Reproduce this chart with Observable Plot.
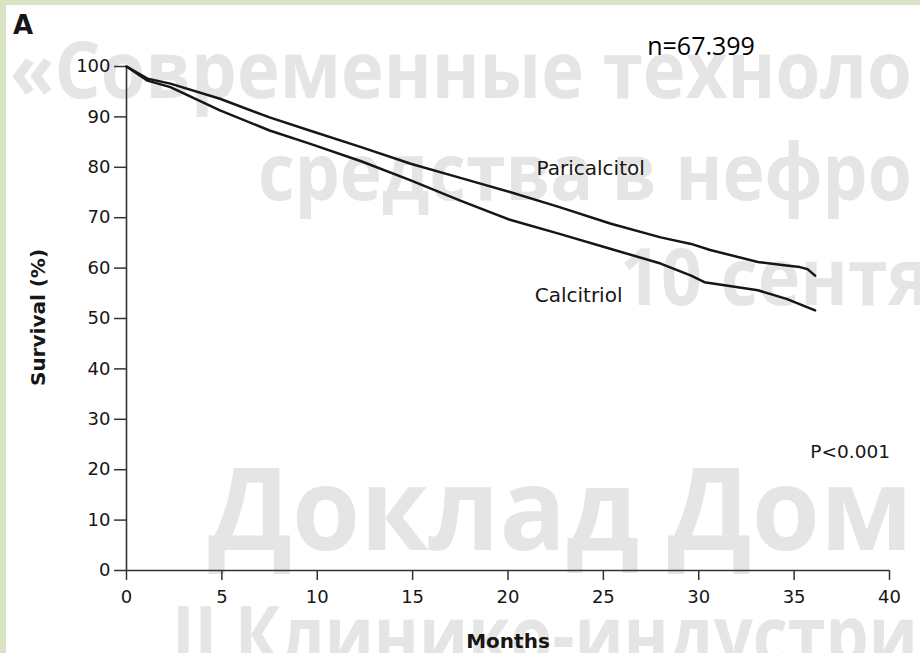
<!DOCTYPE html>
<html>
<head>
<meta charset="utf-8">
<script src="https://cdn.jsdelivr.net/npm/d3@7"></script>
<script src="https://cdn.jsdelivr.net/npm/@observablehq/plot@0.6"></script>
<style>
  html, body { margin: 0; padding: 0; background: #fff; }
  #wrap { position: relative; width: 920px; height: 653px; overflow: hidden; background: #fff; }
  .strip { position: absolute; background: #d9e4c4; }
  #bg { position: absolute; left: 0; top: 0; }
  #bg text { font-family: "Open Sans", sans-serif; font-weight: 700; fill: #e5e5e5; filter: blur(0.7px); }
  #chart { position: absolute; left: 0; top: 0; }
</style>
</head>
<body>
<div id="wrap">
  <div class="strip" style="left:0;top:0;width:920px;height:5px"></div>
  <div class="strip" style="left:0;top:0;width:6px;height:653px"></div>
  <svg id="bg" width="920" height="653">
    <text x="10" y="98" font-size="78" data-fit="902" data-group="a">«Современные техноло</text>
    <text x="258" y="200" font-size="78" data-fit="654" data-group="a">средства в нефро</text>
    <text x="620" y="305" font-size="78" data-group="a">10 сентя</text>
    <text x="208" y="550" font-size="114" data-fit="705" data-group="b">Доклад Дом</text>
    <text x="172" y="664" font-size="80" data-fit="746" data-group="c">II Клинико-индустри</text>
  </svg>
  <div id="chart"></div>
</div>
<script>
// Kaplan–Meier survival, months since start of therapy
const paricalcitolMonths = [0, 1.1, 2.3, 4.9, 7.5, 9.6, 12.3, 14.9, 17.5, 20.1, 22.7, 25.4, 28.0, 29.6, 30.6, 33.1, 34.6, 35.3, 35.7, 36.1];
const paricalcitolSurvival = [100, 97.6, 96.6, 93.6, 89.9, 87.3, 84.0, 80.7, 77.9, 75.1, 72.1, 68.8, 66.1, 64.8, 63.6, 61.2, 60.5, 60.2, 59.8, 58.5];

const calcitriolMonths = [0, 1.1, 2.3, 4.9, 7.5, 9.6, 12.3, 14.9, 17.5, 20.1, 22.7, 25.4, 28.0, 29.6, 30.3, 33.1, 34.6, 36.1];
const calcitriolSurvival = [100, 97.2, 95.9, 91.3, 87.3, 84.7, 81.2, 77.4, 73.4, 69.6, 66.8, 63.8, 60.9, 58.5, 57.2, 55.6, 53.9, 51.6];

const monthTicks = [0, 5, 10, 15, 20, 25, 30, 35, 40];
const survivalTicks = [0, 10, 20, 30, 40, 50, 60, 70, 80, 90, 100];

const seriesNames = ["Paricalcitol", "Calcitriol"];
const labelMonths = [21.5, 21.4];
const labelSurvival = [78.4, 53.2];

const sampleNote = "n=67.399";
const pValue = "P<0.001";
const panelLetter = "A";

// Background banner lines: squeeze each group horizontally to its width
const groupScale = {};
document.querySelectorAll("#bg text[data-fit]").forEach(t => {
  const natural = t.getComputedTextLength();
  const s = +t.dataset.fit / natural;
  groupScale[t.dataset.group] = groupScale[t.dataset.group] ? (groupScale[t.dataset.group] + s) / 2 : s;
});
document.querySelectorAll("#bg text").forEach(t => {
  const x = +t.getAttribute("x");
  const s = t.dataset.fit ? +t.dataset.fit / t.getComputedTextLength() : groupScale[t.dataset.group];
  t.setAttribute("transform", `translate(${x},0) scale(${s},1) translate(${-x},0)`);
});

const rows = [
  ...paricalcitolMonths.map((m, i) => ({group: seriesNames[0], month: m, survival: paricalcitolSurvival[i]})),
  ...calcitriolMonths.map((m, i) => ({group: seriesNames[1], month: m, survival: calcitriolSurvival[i]}))
];
const seriesLabels = seriesNames.map((name, i) => ({name, month: labelMonths[i], survival: labelSurvival[i]}));

const ink = "#161616";

const chart = Plot.plot({
  width: 920,
  height: 653,
  marginLeft: 126,
  marginRight: 31,
  marginTop: 66,
  marginBottom: 83,
  style: {background: "transparent", fontFamily: "'DejaVu Sans', sans-serif", fontSize: "18px", color: ink, overflow: "visible"},
  x: {domain: [0, 40]},
  y: {domain: [0, 100]},
  marks: [
    Plot.axisX({ticks: monthTicks, tickSize: 10, tickPadding: 10, label: null, stroke: "#333", strokeWidth: 1.5, fontSize: 18}),
    Plot.axisY({ticks: survivalTicks, tickSize: 12, tickPadding: 4, label: null, stroke: "#333", strokeWidth: 1.5, fontSize: 18}),
    Plot.ruleX([0], {stroke: "#333", strokeWidth: 1.6}),
    Plot.ruleY([0], {stroke: "#333", strokeWidth: 1.6}),
    Plot.line(rows, {x: "month", y: "survival", z: "group", stroke: ink, strokeWidth: 2.5}),
    Plot.text(seriesLabels, {x: "month", y: "survival", text: "name", textAnchor: "start", lineAnchor: "bottom", fontSize: 20, fill: ink}),
    Plot.text([pValue], {x: 35.85, y: 22.3, text: d => d, textAnchor: "start", lineAnchor: "bottom", fontSize: 18.5, fill: ink}),
    Plot.text([sampleNote], {x: 27.3, y: 102.3, text: d => d, textAnchor: "start", lineAnchor: "bottom", fontSize: 25, fontFamily: "'Open Sans', sans-serif", fill: "#000"}),
    Plot.text([panelLetter], {x: -5.95, y: 106.5, text: d => d, textAnchor: "start", lineAnchor: "bottom", fontSize: 26, fontWeight: "bold", fill: ink}),
    Plot.text(["Months"], {x: 20, y: -15.35, text: d => d, textAnchor: "middle", lineAnchor: "bottom", fontSize: 20, fontWeight: "bold", fill: ink}),
    Plot.text(["Survival (%)"], {x: -4.25, y: 50.2, text: d => d, rotate: -90, textAnchor: "middle", lineAnchor: "bottom", fontSize: 20, fontWeight: "bold", fill: ink})
  ]
});
document.getElementById("chart").appendChild(chart);
</script>
</body>
</html>
